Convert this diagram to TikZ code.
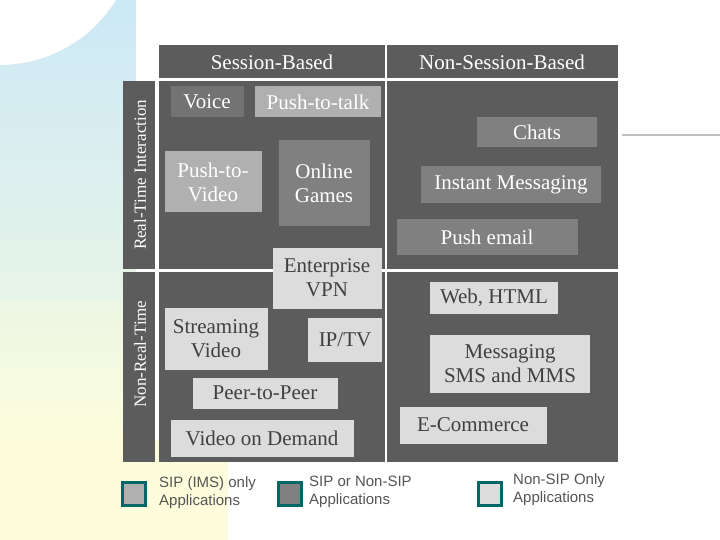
\documentclass[tikz,border=0pt]{standalone}
\usepackage{fontspec}
\setmainfont{Liberation Serif}
\newfontfamily\legfont{Liberation Sans}
\begin{document}
\begin{tikzpicture}[x=1pt,y=-1pt,
  panel/.style={fill=dk,draw=none},
  app/.style={inner sep=0pt,align=center,font=\fontsize{21}{24}\selectfont,text=white},
  sip/.style={app,fill=sipc},
  both/.style={app,fill=bothc},
  non/.style={app,fill=nonc,text=txtd},
  lsq/.style={draw=teal!80!black,line width=2.5pt,minimum size=23pt,inner sep=0pt},
  leg/.style={font=\legfont\fontsize{15}{18}\selectfont,text=legc,align=left,anchor=north west,inner sep=0pt}]
\definecolor{dk}{HTML}{5C5C5C}
\definecolor{sipc}{HTML}{B0B0B0}
\definecolor{bothc}{HTML}{808080}
\definecolor{nonc}{HTML}{DCDCDC}
\definecolor{txtd}{HTML}{404040}
\definecolor{legc}{HTML}{555555}
\definecolor{bgb}{HTML}{C6E6FA}
\definecolor{bgy}{HTML}{FDFDDC}
\useasboundingbox (0,0) rectangle (720,540);
\fill[white] (0,0) rectangle (720,540);
% background
\shade[top color=bgb,bottom color=bgy] (0,65) arc[start angle=90,end angle=0,radius=136] -- (136,540) -- (0,540) -- cycle;
\fill[bgy] (0,440) rectangle (228,540);
\shade[top color=bgy!70!bgb,bottom color=bgy] (0,300) rectangle (136,440);
\draw[line width=2pt,color=black!25] (622,135) -- (720,135);
% panels
\fill[panel] (159,45) rectangle (385,78);
\fill[panel] (387,45) rectangle (618,78);
\fill[panel] (123,81) rectangle (155,269);
\fill[panel] (123,272) rectangle (155,462);
\fill[panel] (159,81) rectangle (385,269);
\fill[panel] (387,81) rectangle (618,269);
\fill[panel] (159,272) rectangle (385,462);
\fill[panel] (387,272) rectangle (618,462);
\node[app] (hs) at (272,62) {Session-Based};
\node[app] (hn) at (502,62) {Non-Session-Based};
\node[app,rotate=90,font=\fontsize{17}{20}\selectfont] (rt) at (140,175) {Real-Time Interaction};
\node[app,rotate=90,font=\fontsize{17}{20}\selectfont] (nrt) at (140,354) {Non-Real-Time};
% apps
\node[both,fill=black!55,minimum width=73pt,minimum height=31pt] (voice) at (207,102) {Voice};
\node[sip,minimum width=126pt,minimum height=31pt] (ptt) at (318,102) {Push-to-talk};
\node[sip,minimum width=97pt,minimum height=61pt] (ptv) at (213,182) {Push-to-\\Video};
\node[both,minimum width=91pt,minimum height=86pt] (og) at (324,183) {Online\\Games};
\node[non,minimum width=109pt,minimum height=61pt] (vpn) at (327,278) {Enterprise\\VPN};
\node[both,minimum width=120pt,minimum height=30pt] (chats) at (537,132) {Chats};
\node[both,minimum width=180pt,minimum height=37pt] (im) at (511,185) {Instant Messaging};
\node[both,minimum width=181pt,minimum height=36pt] (pe) at (487,237) {Push email};
\node[non,minimum width=103pt,minimum height=62pt] (sv) at (216,339) {Streaming\\Video};
\node[non,minimum width=74pt,minimum height=44pt] (iptv) at (345,340) {IP/TV};
\node[non,minimum width=145pt,minimum height=31pt] (p2p) at (265,393) {Peer-to-Peer};
\node[non,minimum width=183pt,minimum height=37pt] (vod) at (262,438) {Video on Demand};
\node[non,minimum width=128pt,minimum height=32pt] (web) at (494,298) {Web, HTML};
\node[non,minimum width=160pt,minimum height=58pt] (msg) at (510,364) {Messaging\\SMS and MMS};
\node[non,minimum width=147pt,minimum height=37pt] (ec) at (473,425) {E-Commerce};
% legend
\node[lsq,fill=sipc] (l1) at (134,494) {};
\node[lsq,fill=bothc] (l2) at (290,494) {};
\node[lsq,fill=nonc] (l3) at (490,494) {};
\node[leg] (t1) at (159,476) {SIP (IMS) only\\Applications};
\node[leg] (t2) at (309,476) {SIP or Non-SIP\\Applications};
\node[leg] (t3) at (513,473) {Non-SIP Only\\Applications};
\end{tikzpicture}
\end{document}
